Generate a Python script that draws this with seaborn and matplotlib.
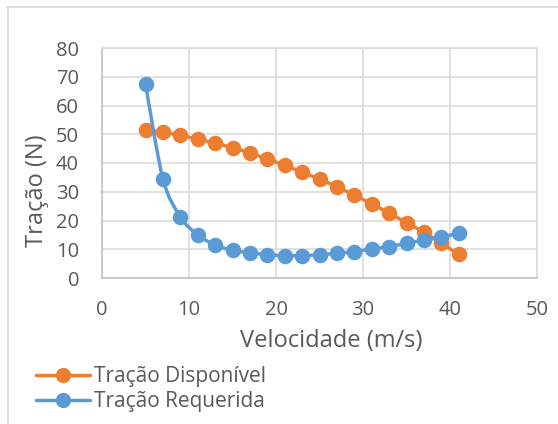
import numpy as np
import pandas as pd
import matplotlib
matplotlib.use("Agg")
import matplotlib.pyplot as plt
from matplotlib.path import Path
from matplotlib.patches import PathPatch
from matplotlib.lines import Line2D
import seaborn as sns

# Velocidade (m/s)
velocidade = [5, 7, 9, 11, 13, 15, 17, 19, 21, 23, 25, 27, 29, 31, 33, 35, 37, 39, 41]
# Tração disponível (N)
tracao_disponivel = [51.4, 50.7, 49.6, 48.3, 46.9, 45.3, 43.5, 41.4, 39.2, 36.8,
                     34.4, 31.7, 28.8, 25.8, 22.6, 19.2, 15.9, 12.1, 8.2]
# Tração requerida (N)
tracao_requerida = [67.4, 34.6, 21.3, 15.0, 11.5, 9.6, 8.8, 8.1, 7.8, 7.8,
                    8.1, 8.6, 9.2, 10.1, 10.9, 12.1, 13.2, 14.2, 15.6]

series_names = ["Tração Disponível", "Tração Requerida"]
x_ticks = [0, 10, 20, 30, 40, 50]
y_ticks = [0, 10, 20, 30, 40, 50, 60, 70, 80]

colors = {"Tração Disponível": "#ED7D31", "Tração Requerida": "#5B9BD5"}
text_color = "#595959"

df = pd.DataFrame({
    "Velocidade": velocidade * 2,
    "Tração": tracao_disponivel + tracao_requerida,
    "Série": [series_names[0]] * len(velocidade) + [series_names[1]] * len(velocidade),
})

sns.set_theme(style="white")
plt.rcParams["font.family"] = ["Open Sans", "DejaVu Sans"]

fig = plt.figure(figsize=(5.58, 4.24), dpi=100)
ax = fig.add_axes([102 / 558, 1 - 278 / 424, 435 / 558, 230 / 424])


def smooth_path(xs, ys):
    """Cubic Bezier path through the points (Catmull-Rom style tangents)."""
    pts = np.column_stack([xs, ys]).astype(float)
    n = len(pts)
    verts = [pts[0]]
    codes = [Path.MOVETO]
    for i in range(n - 1):
        p0 = pts[i - 1] if i > 0 else pts[i]
        p1 = pts[i]
        p2 = pts[i + 1]
        p3 = pts[i + 2] if i + 2 < n else pts[i + 1]
        c1 = p1 + (p2 - p0) / 6.0
        c2 = p2 - (p3 - p1) / 6.0
        verts += [c1, c2, p2]
        codes += [Path.CURVE4] * 3
    return Path(verts, codes)


for z, name in enumerate(series_names):
    sub = df[df["Série"] == name]
    patch = PathPatch(smooth_path(sub["Velocidade"].values, sub["Tração"].values),
                      facecolor="none", edgecolor=colors[name], lw=2.5,
                      zorder=3 + 2 * z, capstyle="round", joinstyle="round")
    ax.add_patch(patch)
    sns.scatterplot(data=sub, x="Velocidade", y="Tração", color=colors[name],
                    s=125, linewidth=0, ax=ax, zorder=4 + 2 * z, legend=False)

ax.set_xlim(0, 50)
ax.set_ylim(0, 80)
ax.set_xticks(x_ticks)
ax.set_yticks(y_ticks)
ax.set_xticklabels([str(t) for t in x_ticks])
ax.set_yticklabels([str(t) for t in y_ticks])
ax.set_xlabel("")
ax.set_ylabel("")

ax.grid(True, color="#D9D9D9", linewidth=1.1)
ax.set_axisbelow(True)
for side in ["top", "right"]:
    ax.spines[side].set_color("#D9D9D9")
    ax.spines[side].set_linewidth(1.1)
for side in ["left", "bottom"]:
    ax.spines[side].set_color("#BFBFBF")
    ax.spines[side].set_linewidth(1.1)

ax.tick_params(axis="both", length=0, labelsize=14.5, labelcolor=text_color)
ax.tick_params(axis="x", pad=16)
ax.tick_params(axis="y", pad=16.5)

fig.text(331 / 558, 1 - 341 / 424, "Velocidade (m/s)", ha="center", va="center",
         fontsize=17, color=text_color)
fig.text(37 / 558, 1 - 191 / 424, "Tração (N)", ha="center", va="center",
         rotation=90, fontsize=17, color=text_color)

handles = [Line2D([0], [0], color=colors[n], lw=2.5, marker="o", markersize=11,
                  markeredgewidth=0) for n in series_names]
fig.legend(handles, series_names, loc="center left",
           bbox_to_anchor=(36 / 558, 1 - 389 / 424), frameon=False,
           fontsize=15, labelcolor=text_color, handlelength=2.6,
           handletextpad=0.2, labelspacing=0.18, borderpad=0, borderaxespad=0)

# Outer chart frame
fig.add_artist(Line2D([7 / 558, 1], [1 - 6.5 / 424, 1 - 6.5 / 424],
                      color="#D9D9D9", lw=1.2, transform=fig.transFigure))
fig.add_artist(Line2D([7.5 / 558, 7.5 / 558], [0, 1 - 6.5 / 424],
                      color="#D9D9D9", lw=1.2, transform=fig.transFigure))

fig.savefig("out.png", dpi=100)
